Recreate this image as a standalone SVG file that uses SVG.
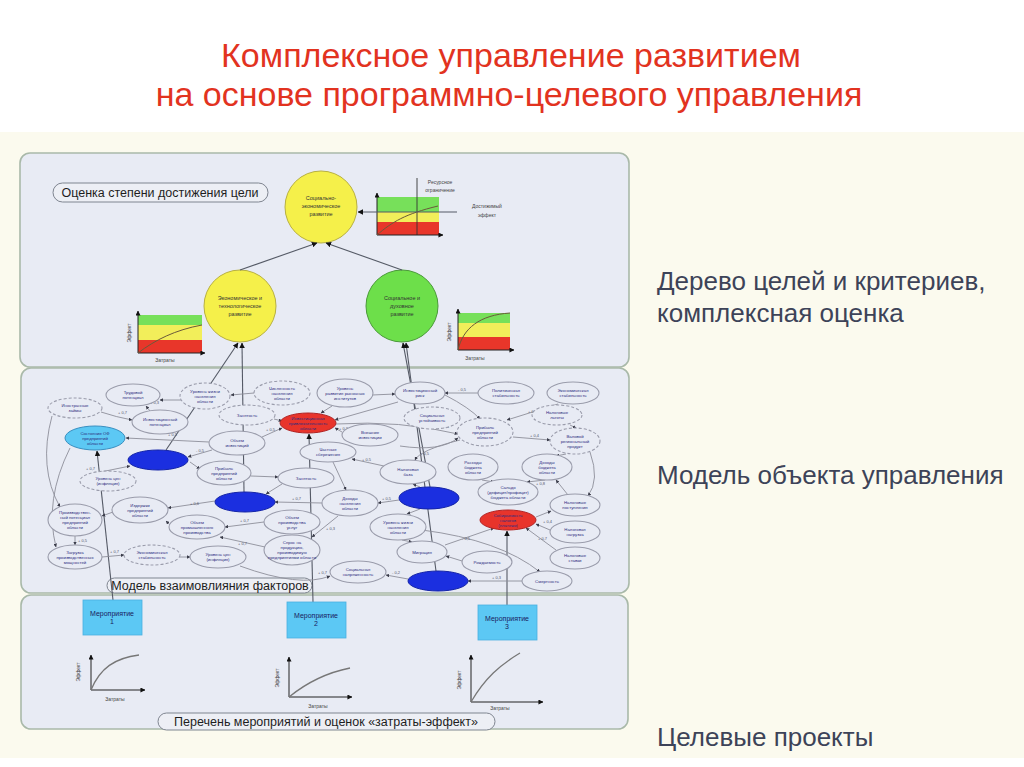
<svg xmlns="http://www.w3.org/2000/svg" width="1024" height="767" viewBox="0 0 1024 767">
<defs>
<style>
.panel{fill:#e8ebf4;stroke:#a9b9a9;stroke-width:1.6}
.pill{fill:#edeff5;stroke:#7f8590;stroke-width:1}
.pt{font-family:'Liberation Sans',Arial,sans-serif;font-size:12.5px;fill:#1e1e1e}
.n{fill:#e8ebf4;stroke:#9a9cab;stroke-width:1.1}
.nd{fill:#e8ebf4;stroke:#9a9cab;stroke-width:1.1;stroke-dasharray:3 2}
.nt{font-family:'Liberation Sans',Arial,sans-serif;font-size:4.3px;fill:#2d2d80;text-anchor:middle}
.blue{fill:#1b2fe0;stroke:#1424a8;stroke-width:1}
.red{fill:#e8342b;stroke:#b02525;stroke-width:1}
.lb{fill:#5cc8f4;stroke:#3a8fc0;stroke-width:1}
.c{fill:none;stroke:#8d8f9a;stroke-width:0.9;marker-end:url(#ah)}
.cl{font-family:'Liberation Sans',Arial,sans-serif;font-size:4px;fill:#55576a}
.lk{fill:none;stroke:#555a66;stroke-width:1.1;marker-end:url(#ahb)}
.ax{fill:none;stroke:#222;stroke-width:1;marker-end:url(#ahb)}
.cv{fill:none;stroke:#6a5a3a;stroke-width:1}
.cvb{fill:none;stroke:#777;stroke-width:1.3}
.ct{font-family:'Liberation Sans',Arial,sans-serif;font-size:5.5px;fill:#333;text-anchor:middle}
.st{font-family:'Liberation Sans',Arial,sans-serif;font-size:5px;fill:#444;text-anchor:middle}
.side{font-family:'Liberation Sans',Arial,sans-serif;font-size:26px;fill:#3d4358}
.title{font-family:'Liberation Sans',Arial,sans-serif;font-size:34px;fill:#e2331f;text-anchor:middle}
.box{fill:#5cc8f4;stroke:#4ab0e0;stroke-width:0.8}
.bt{font-family:'Liberation Sans',Arial,sans-serif;font-size:7px;fill:#1a2060;text-anchor:middle}
</style>
<marker id="ah" viewBox="0 0 6 6" refX="5.5" refY="3" markerWidth="4" markerHeight="4" orient="auto"><path d="M0,0 L6,3 L0,6 z" fill="#3a3c4a"/></marker>
<marker id="ahb" viewBox="0 0 6 6" refX="5.5" refY="3" markerWidth="5" markerHeight="5" orient="auto"><path d="M0,0 L6,3 L0,6 z" fill="#111"/></marker>
</defs>

<rect x="0" y="0" width="1024" height="767" fill="#ffffff"/>
<rect x="0" y="132" width="1024" height="626" fill="#fbfaee"/>

<text class="title" x="511" y="67">Комплексное управление развитием</text>
<text class="title" x="509" y="106">на основе программно-целевого управления</text>

<text class="side" x="657" y="290">Дерево целей и критериев,</text>
<text class="side" x="657" y="322">комплексная оценка</text>
<text class="side" x="657" y="484">Модель объекта управления</text>
<text class="side" x="657" y="746">Целевые проекты</text>

<!-- panels -->
<rect class="panel" x="20" y="153" width="609" height="214" rx="10"/>
<rect class="panel" x="21" y="368" width="608" height="225" rx="10"/>
<rect class="panel" x="21" y="595" width="607" height="134" rx="10"/>

<g id="label-top"><rect class="pill" x="53" y="183" width="215" height="19" rx="9.5"/><text class="pt" x="160" y="197" text-anchor="middle">Оценка степени достижения цели</text></g>
<g id="label-mid"><rect class="pill" x="107" y="578" width="205" height="15" rx="7.5"/><text class="pt" x="210" y="590" text-anchor="middle" font-size="12">Модель взаимовлияния факторов</text></g>
<g id="label-bot"><rect class="pill" x="158" y="713" width="337" height="17" rx="8.5"/><text class="pt" x="326" y="726" text-anchor="middle">Перечень мероприятий и оценок «затраты-эффект»</text></g>

<!-- charts top panel -->
<g id="chart-top">
<rect x="377" y="197" width="62" height="15" fill="#77e05a"/>
<rect x="377" y="212" width="62" height="10" fill="#f2ee5a"/>
<rect x="377" y="222" width="62" height="13" fill="#e8362a"/>
<line x1="417" y1="178" x2="417" y2="235" stroke="#333" stroke-width="0.9"/>
<line class="ax" x1="377" y1="235" x2="377" y2="193"/>
<line class="ax" x1="377" y1="235" x2="443" y2="235"/>
<path class="cv" d="M377,235 C392,222 405,214 438,206"/>
<text class="st" x="440" y="184">Ресурсное</text>
<text class="st" x="440" y="192">ограничение</text>
<text class="st" x="487" y="208">Достижимый</text>
<text class="st" x="487" y="217">эффект</text>
</g>
<g id="chart-left">
<rect x="138" y="315" width="64" height="10" fill="#77e05a"/>
<rect x="138" y="325" width="64" height="15" fill="#f2ee5a"/>
<rect x="138" y="340" width="64" height="13" fill="#e8362a"/>
<line class="ax" x1="138" y1="353" x2="138" y2="311"/>
<line class="ax" x1="138" y1="353" x2="205" y2="353"/>
<path class="cv" d="M138,353 C155,340 175,330 202,325"/>
<text class="st" transform="rotate(-90 131 333)" x="131" y="333">Эффект</text>
<text class="st" x="165" y="362">Затраты</text>
</g>
<g id="chart-right">
<rect x="458" y="313" width="52" height="10" fill="#77e05a"/>
<rect x="458" y="323" width="52" height="14" fill="#f2ee5a"/>
<rect x="458" y="337" width="52" height="13" fill="#e8362a"/>
<line class="ax" x1="458" y1="350" x2="458" y2="309"/>
<line class="ax" x1="458" y1="350" x2="514" y2="350"/>
<path class="cv" d="M458,350 C463,328 480,315 510,313"/>
<text class="st" transform="rotate(-90 451 332)" x="451" y="332">Эффект</text>
<text class="st" x="475" y="360">Затраты</text>
</g>

<!-- goal circles -->
<g id="goal-top"><circle cx="321" cy="207" r="36" fill="#f5f04a" stroke="#b8b040" stroke-width="1"/><text class="ct" x="321" y="200">Социально-<tspan x="321" dy="8">экономическое</tspan><tspan x="321" dy="8">развитие</tspan></text></g>
<g id="goal-left"><circle cx="240" cy="306" r="36" fill="#f5f04a" stroke="#b8b040" stroke-width="1"/><text class="ct" x="240" y="300">Экономическое и<tspan x="240" dy="8">технологическое</tspan><tspan x="240" dy="8">развитие</tspan></text></g>
<g id="goal-right"><circle cx="402" cy="306" r="36" fill="#6ddf4a" stroke="#4a9a38" stroke-width="1"/><text class="ct" x="402" y="300">Социальное и<tspan x="402" dy="8">духовное</tspan><tspan x="402" dy="8">развитие</tspan></text></g>

<!-- connectors -->
<g id="connectors">
<line class="lk" x1="240" y1="270" x2="317" y2="243"/>
<line class="lk" x1="402" y1="270" x2="326" y2="243"/>
<line class="lk" x1="457" y1="212" x2="358" y2="212"/>
<line class="lk" x1="166" y1="450" x2="238" y2="343"/>
<line class="lk" x1="244" y1="492" x2="242" y2="343"/>
<line class="lk" x1="430" y1="487" x2="403" y2="343"/>
<line class="lk" x1="436" y1="571" x2="406" y2="343"/>
<line class="lk" x1="113" y1="600" x2="97" y2="451"/>
<line class="lk" x1="313" y1="602" x2="309" y2="434"/>
<line class="lk" x1="507" y1="605" x2="507" y2="531"/>

<path class="c" d="M181,400 L160,400"/>
<path class="c" d="M150,411 L146,406"/>
<path class="c" d="M101,412 Q116,417 132,420"/>
<path class="c" d="M209,442 L126,438"/>
<path class="c" d="M212,450 L188,457"/>
<path class="c" d="M52,416 Q38,468 60,507"/>
<path class="c" d="M70,448 Q44,500 56,547"/>
<path class="c" d="M96,473 L130,466"/>
<path class="c" d="M75,536 L75,545"/>
<path class="c" d="M113,512 L102,516"/>
<path class="c" d="M170,525 L166,521"/>
<path class="c" d="M190,462 L200,469"/>
<path class="c" d="M215,501 L168,508"/>
<path class="c" d="M322,503 L275,502"/>
<path class="c" d="M282,484 L266,494"/>
<path class="c" d="M264,522 L225,527"/>
<path class="c" d="M265,547 L220,537"/>
<path class="c" d="M338,516 L312,537"/>
<path class="c" d="M333,462 L346,490"/>
<path class="c" d="M251,476 L278,477"/>
<path class="c" d="M262,437 L282,428"/>
<path class="c" d="M342,432 L335,428"/>
<path class="c" d="M332,406 L321,413"/>
<path class="c" d="M274,419 L282,421"/>
<path class="c" d="M398,402 L335,420"/>
<path class="c" d="M478,393 L445,393"/>
<path class="c" d="M558,404 L507,420"/>
<path class="c" d="M513,437 L550,440"/>
<path class="c" d="M570,425 L576,428"/>
<path class="c" d="M384,466 L352,459"/>
<path class="c" d="M420,487 L413,484"/>
<path class="c" d="M399,500 L378,503"/>
<path class="c" d="M482,480 L494,482"/>
<path class="c" d="M545,480 L527,482"/>
<path class="c" d="M568,495 L556,480"/>
<path class="c" d="M536,517 L551,511"/>
<path class="c" d="M550,530 L536,524"/>
<path class="c" d="M556,550 L526,528"/>
<path class="c" d="M445,545 L494,528"/>
<path class="c" d="M462,561 L446,556"/>
<path class="c" d="M522,581 L468,581"/>
<path class="c" d="M408,579 L386,575"/>
<path class="c" d="M402,540 L412,542"/>
<path class="c" d="M420,509 L407,514"/>
<path class="c" d="M566,454 L556,456"/>
<path class="c" d="M460,440 Q420,450 415,460"/>
<path class="c" d="M422,530 Q500,540 540,572"/>
<path class="c" d="M240,566 Q300,588 330,576"/>
<path class="c" d="M102,557 L124,555"/>
<path class="c" d="M254,393 L231,395"/>
<path class="c" d="M372,395 L395,394"/>
<path class="c" d="M445,395 Q470,408 480,419"/>
<path class="c" d="M180,557 L190,557"/>
<path class="c" d="M336,424 Q400,420 458,434"/>
<path class="c" d="M400,446 Q440,452 458,438"/>
<path class="c" d="M590,452 Q600,480 588,496"/>

<text class="cl" x="168" y="436">+ 0,5</text>
<text class="cl" x="196" y="452">- 0,5</text>
<text class="cl" x="118" y="414">+ 0,7</text>
<text class="cl" x="150" y="404">+ 0,3</text>
<text class="cl" x="78" y="542">+ 0,5</text>
<text class="cl" x="190" y="505">+ 0,6</text>
<text class="cl" x="292" y="500">+ 0,7</text>
<text class="cl" x="240" y="522">+ 0,7</text>
<text class="cl" x="238" y="545">+ 0,7</text>
<text class="cl" x="326" y="530">+ 0,3</text>
<text class="cl" x="266" y="431">+ 0,5</text>
<text class="cl" x="339" y="430">+ 0,3</text>
<text class="cl" x="458" y="391">- 0,5</text>
<text class="cl" x="528" y="413">+ 0,3</text>
<text class="cl" x="530" y="437">+ 0,4</text>
<text class="cl" x="362" y="461">+ 0,5</text>
<text class="cl" x="382" y="500">+ 0,5</text>
<text class="cl" x="536" y="485">+ 0,8</text>
<text class="cl" x="543" y="523">+ 0,4</text>
<text class="cl" x="538" y="540">+ 0,7</text>
<text class="cl" x="462" y="540">- 0,5</text>
<text class="cl" x="492" y="579">+ 0,3</text>
<text class="cl" x="392" y="574">- 0,2</text>
<text class="cl" x="86" y="470">+ 0,7</text>
<text class="cl" x="440" y="428">+ 0,4</text>
<text class="cl" x="420" y="455">+ 0,5</text>
<text class="cl" x="318" y="574">+ 0,7</text>
<text class="cl" x="110" y="553">+ 0,7</text>
</g>

<!-- nodes -->
<g id="n1"><ellipse class="n" cx="133" cy="395" rx="27" ry="11"/><text class="nt" x="133" y="394">Трудовой<tspan x="133" dy="5">потенциал</tspan></text></g>
<g id="n2"><ellipse class="nd" cx="205" cy="396" rx="25" ry="13"/><text class="nt" x="205" y="392.5">Уровень жизни<tspan x="205" dy="5">населения</tspan><tspan x="205" dy="5">области</tspan></text></g>
<g id="n3"><ellipse class="nd" cx="75" cy="408" rx="27" ry="10"/><text class="nt" x="75" y="407">Иностранные<tspan x="75" dy="5">займы</tspan></text></g>
<g id="n4"><ellipse class="n" cx="160" cy="422" rx="28" ry="12"/><text class="nt" x="160" y="421">Инвестиционный<tspan x="160" dy="5">потенциал</tspan></text></g>
<g id="n5"><ellipse class="nd" cx="282" cy="393" rx="28" ry="12"/><text class="nt" x="282" y="389.5">Численность<tspan x="282" dy="5">населения</tspan><tspan x="282" dy="5">области</tspan></text></g>
<g id="n6"><ellipse class="n" cx="345" cy="393" rx="28" ry="14"/><text class="nt" x="345" y="389.5">Уровень<tspan x="345" dy="5">развития рыночных</tspan><tspan x="345" dy="5">институтов</tspan></text></g>
<g id="n7"><ellipse class="n" cx="420" cy="393" rx="25" ry="11"/><text class="nt" x="420" y="392">Инвестиционный<tspan x="420" dy="5">риск</tspan></text></g>
<g id="n8"><ellipse class="n" cx="506" cy="393" rx="28" ry="11"/><text class="nt" x="506" y="392">Политическая<tspan x="506" dy="5">стабильность</tspan></text></g>
<g id="n9"><ellipse class="n" cx="573" cy="393" rx="26" ry="11"/><text class="nt" x="573" y="392">Экономическая<tspan x="573" dy="5">стабильность</tspan></text></g>
<g id="n10"><ellipse class="nd" cx="247" cy="415" rx="28" ry="10"/><text class="nt" x="247" y="416.5">Занятость</text></g>
<g id="n11"><ellipse class="nd" cx="432" cy="418" rx="28" ry="11"/><text class="nt" x="432" y="417">Социальная<tspan x="432" dy="5">устойчивость</tspan></text></g>
<g id="n12"><ellipse class="nd" cx="557" cy="415" rx="25" ry="10"/><text class="nt" x="557" y="414">Налоговые<tspan x="557" dy="5">льготы</tspan></text></g>
<g id="n13"><ellipse class="red" cx="308" cy="423" rx="28" ry="10"/><text class="nt" x="308" y="419.5" fill="#5a1010">Инвестиционная<tspan x="308" dy="5">привлекательность</tspan><tspan x="308" dy="5">области</tspan></text></g>
<g id="n14"><ellipse class="n" cx="370" cy="435" rx="28" ry="11"/><text class="nt" x="370" y="434">Внешние<tspan x="370" dy="5">инвестиции</tspan></text></g>
<g id="n15"><ellipse class="nd" cx="485" cy="432" rx="28" ry="14"/><text class="nt" x="485" y="428.5">Прибыль<tspan x="485" dy="5">предприятий</tspan><tspan x="485" dy="5">области</tspan></text></g>
<g id="n16"><ellipse class="nd" cx="575" cy="441" rx="25" ry="13"/><text class="nt" x="575" y="437.5">Валовой<tspan x="575" dy="5">региональный</tspan><tspan x="575" dy="5">продукт</tspan></text></g>
<g id="n17"><ellipse class="lb" cx="95" cy="438" rx="30" ry="12"/><text class="nt" x="95" y="434.5" fill="#1a3070">Состояние ОФ<tspan x="95" dy="5">предприятий</tspan><tspan x="95" dy="5">области</tspan></text></g>
<g id="n18"><ellipse class="n" cx="237" cy="443" rx="28" ry="12"/><text class="nt" x="237" y="442">Объем<tspan x="237" dy="5">инвестиций</tspan></text></g>
<g id="n19"><ellipse class="n" cx="328" cy="452" rx="28" ry="10"/><text class="nt" x="328" y="451">Частные<tspan x="328" dy="5">сбережения</tspan></text></g>
<g id="n20"><ellipse class="blue" cx="158" cy="460" rx="30" ry="10"/></g>
<g id="n21"><ellipse class="n" cx="408" cy="472" rx="28" ry="12"/><text class="nt" x="408" y="471">Налоговая<tspan x="408" dy="5">база</tspan></text></g>
<g id="n22"><ellipse class="n" cx="473" cy="467" rx="25" ry="13"/><text class="nt" x="473" y="463.5">Расходы<tspan x="473" dy="5">бюджета</tspan><tspan x="473" dy="5">области</tspan></text></g>
<g id="n23"><ellipse class="n" cx="547" cy="467" rx="25" ry="13"/><text class="nt" x="547" y="463.5">Доходы<tspan x="547" dy="5">бюджета</tspan><tspan x="547" dy="5">области</tspan></text></g>
<g id="n24"><ellipse class="nd" cx="108" cy="481" rx="28" ry="10"/><text class="nt" x="108" y="480">Уровень цен<tspan x="108" dy="5">(инфляция)</tspan></text></g>
<g id="n25"><ellipse class="n" cx="224" cy="473" rx="27" ry="12"/><text class="nt" x="224" y="469.5">Прибыль<tspan x="224" dy="5">предприятий</tspan><tspan x="224" dy="5">области</tspan></text></g>
<g id="n26"><ellipse class="n" cx="306" cy="478" rx="28" ry="10"/><text class="nt" x="306" y="479.5">Занятость</text></g>
<g id="n27"><ellipse class="n" cx="508" cy="492" rx="30" ry="13"/><text class="nt" x="508" y="488.5">Сальдо<tspan x="508" dy="5">(дефицит/профицит)</tspan><tspan x="508" dy="5">бюджета области</tspan></text></g>
<g id="n28"><ellipse class="blue" cx="245" cy="502" rx="30" ry="10"/></g>
<g id="n29"><ellipse class="blue" cx="429" cy="498" rx="30" ry="11"/></g>
<g id="n30"><ellipse class="n" cx="350" cy="503" rx="28" ry="13"/><text class="nt" x="350" y="499.5">Доходы<tspan x="350" dy="5">населения</tspan><tspan x="350" dy="5">области</tspan></text></g>
<g id="n31"><ellipse class="n" cx="575" cy="505" rx="25" ry="11"/><text class="nt" x="575" y="504">Налоговые<tspan x="575" dy="5">поступления</tspan></text></g>
<g id="n32"><ellipse class="n" cx="140" cy="510" rx="28" ry="13"/><text class="nt" x="140" y="506.5">Издержки<tspan x="140" dy="5">предприятий</tspan><tspan x="140" dy="5">области</tspan></text></g>
<g id="n33"><ellipse class="n" cx="75" cy="520" rx="27" ry="16"/><text class="nt" x="75" y="514">Производствен-<tspan x="75" dy="5">ный потенциал</tspan><tspan x="75" dy="5">предприятий</tspan><tspan x="75" dy="5">области</tspan></text></g>
<g id="n34"><ellipse class="red" cx="508" cy="520" rx="28" ry="10"/><text class="nt" x="508" y="516.5" fill="#5a1010">Собираемость<tspan x="508" dy="5">налогов</tspan><tspan x="508" dy="5">(платежи)</tspan></text></g>
<g id="n35"><ellipse class="n" cx="197" cy="527" rx="28" ry="12"/><text class="nt" x="197" y="523.5">Объем<tspan x="197" dy="5">промышленного</tspan><tspan x="197" dy="5">производства</tspan></text></g>
<g id="n36"><ellipse class="n" cx="292" cy="522" rx="28" ry="12"/><text class="nt" x="292" y="518.5">Объем<tspan x="292" dy="5">производства</tspan><tspan x="292" dy="5">услуг</tspan></text></g>
<g id="n37"><ellipse class="n" cx="398" cy="527" rx="28" ry="13"/><text class="nt" x="398" y="523.5">Уровень жизни<tspan x="398" dy="5">населения</tspan><tspan x="398" dy="5">области</tspan></text></g>
<g id="n38"><ellipse class="n" cx="575" cy="532" rx="25" ry="11"/><text class="nt" x="575" y="531">Налоговая<tspan x="575" dy="5">нагрузка</tspan></text></g>
<g id="n39"><ellipse class="n" cx="292" cy="550" rx="28" ry="15"/><text class="nt" x="292" y="544">Спрос на<tspan x="292" dy="5">продукцию,</tspan><tspan x="292" dy="5">производимую</tspan><tspan x="292" dy="5">предприятиями области</tspan></text></g>
<g id="n40"><ellipse class="n" cx="422" cy="552" rx="25" ry="11"/><text class="nt" x="422" y="553.5">Миграция</text></g>
<g id="n41"><ellipse class="n" cx="75" cy="557" rx="27" ry="12"/><text class="nt" x="75" y="553.5">Загрузка<tspan x="75" dy="5">производственных</tspan><tspan x="75" dy="5">мощностей</tspan></text></g>
<g id="n42"><ellipse class="nd" cx="152" cy="555" rx="28" ry="10"/><text class="nt" x="152" y="554">Экономическая<tspan x="152" dy="5">стабильность</tspan></text></g>
<g id="n43"><ellipse class="n" cx="218" cy="557" rx="28" ry="11"/><text class="nt" x="218" y="556">Уровень цен<tspan x="218" dy="5">(инфляция)</tspan></text></g>
<g id="n44"><ellipse class="n" cx="487" cy="562" rx="25" ry="11"/><text class="nt" x="487" y="563.5">Рождаемость</text></g>
<g id="n45"><ellipse class="n" cx="575" cy="558" rx="25" ry="11"/><text class="nt" x="575" y="557">Налоговые<tspan x="575" dy="5">ставки</tspan></text></g>
<g id="n46"><ellipse class="n" cx="358" cy="572" rx="28" ry="11"/><text class="nt" x="358" y="571">Социальная<tspan x="358" dy="5">напряженность</tspan></text></g>
<g id="n47"><ellipse class="blue" cx="438" cy="581" rx="30" ry="10"/></g>
<g id="n48"><ellipse class="n" cx="547" cy="581" rx="25" ry="10"/><text class="nt" x="547" y="582.5">Смертность</text></g>

<!-- projects -->
<g id="m1"><rect class="box" x="83" y="600" width="59" height="35"/><text class="bt" x="112" y="616">Мероприятие<tspan x="112" dy="8">1</tspan></text></g>
<g id="m2"><rect class="box" x="287" y="602" width="59" height="36"/><text class="bt" x="316" y="618">Мероприятие<tspan x="316" dy="8">2</tspan></text></g>
<g id="m3"><rect class="box" x="478" y="605" width="59" height="35"/><text class="bt" x="507" y="621">Мероприятие<tspan x="507" dy="8">3</tspan></text></g>

<g id="chart-m1">
<line class="ax" x1="91" y1="690" x2="91" y2="655"/>
<line class="ax" x1="91" y1="690" x2="145" y2="690"/>
<path class="cvb" d="M91,690 C100,668 115,658 139,655"/>
<text class="st" transform="rotate(-90 80 672)" x="80" y="672">Эффект</text>
<text class="st" x="115" y="701">Затраты</text>
</g>
<g id="chart-m2">
<line class="ax" x1="289" y1="697" x2="289" y2="657"/>
<line class="ax" x1="289" y1="697" x2="352" y2="697"/>
<path class="cvb" d="M289,697 C305,684 325,673 350,668"/>
<text class="st" transform="rotate(-90 279 678)" x="279" y="678">Эффект</text>
<text class="st" x="318" y="708">Затраты</text>
</g>
<g id="chart-m3">
<line class="ax" x1="471" y1="702" x2="471" y2="655"/>
<line class="ax" x1="471" y1="702" x2="543" y2="702"/>
<path class="cvb" d="M471,702 C485,678 500,665 520,653"/>
<text class="st" transform="rotate(-90 461 680)" x="461" y="680">Эффект</text>
<text class="st" x="500" y="710">Затраты</text>
</g>
</svg>
